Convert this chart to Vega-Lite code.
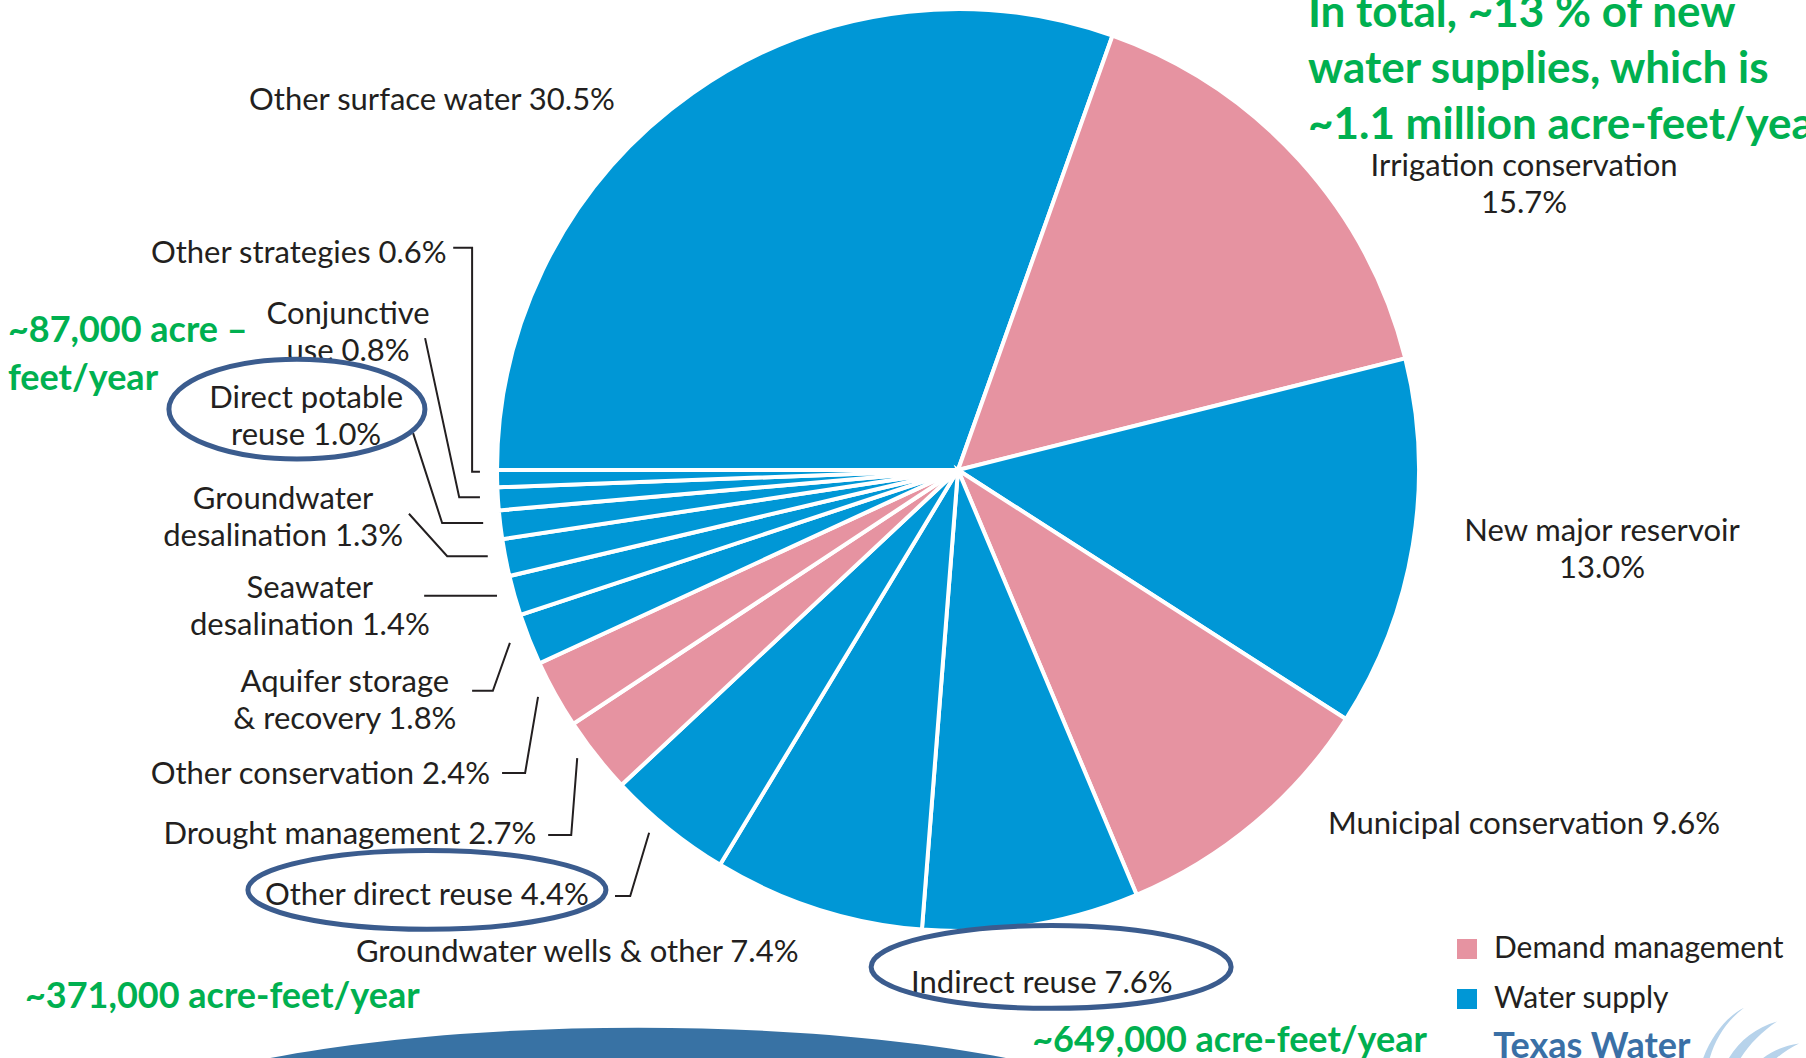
{
  "$schema": "https://vega.github.io/schema/vega-lite/v6.json",
  "width": 1806,
  "height": 1058,
  "autosize": {"type": "none"},
  "padding": 0,
  "background": "white",
  "config": {"view": {"stroke": null}, "font": "Lato"},
  "datasets": {
    "slices": [
      {"name": "Other surface water", "pct": 30.5, "group": "Water supply", "order": 1, "label": "Other surface water 30.5%", "ax": -114.1, "ay": 80.0},
      {"name": "Irrigation conservation", "pct": 15.7, "group": "Demand management", "order": 2, "label": "Irrigation conservation\n15.7%", "ax": 122.8, "ay": 65.7},
      {"name": "New major reservoir", "pct": 13.0, "group": "Water supply", "order": 3, "label": "New major reservoir\n13.0%", "ax": 139.7, "ay": -13.5},
      {"name": "Municipal conservation", "pct": 9.6, "group": "Demand management", "order": 4, "label": "Municipal conservation 9.6%", "ax": 122.8, "ay": -76.9},
      {"name": "Indirect reuse", "pct": 7.6, "group": "Water supply", "order": 5, "label": "Indirect reuse 7.6%", "ax": 18.2, "ay": -111.6},
      {"name": "Groundwater wells & other", "pct": 7.4, "group": "Water supply", "order": 6, "label": "Groundwater wells & other 7.4%", "ax": -82.6, "ay": -104.8},
      {"name": "Other direct reuse", "pct": 4.4, "group": "Water supply", "order": 7, "label": "Other direct reuse 4.4%", "ax": -115.2, "ay": -92.3},
      {"name": "Drought management", "pct": 2.7, "group": "Demand management", "order": 8, "label": "Drought management 2.7%", "ax": -131.9, "ay": -79.2},
      {"name": "Other conservation", "pct": 2.4, "group": "Demand management", "order": 9, "label": "Other conservation 2.4%", "ax": -138.3, "ay": -66.2},
      {"name": "Aquifer storage & recovery", "pct": 1.8, "group": "Water supply", "order": 10, "label": "Aquifer storage\n& recovery 1.8%", "ax": -133.0, "ay": -46.1},
      {"name": "Seawater desalination", "pct": 1.4, "group": "Water supply", "order": 11, "label": "Seawater\ndesalination 1.4%", "ax": -140.6, "ay": -25.9},
      {"name": "Groundwater desalination", "pct": 1.3, "group": "Water supply", "order": 12, "label": "Groundwater\ndesalination 1.3%", "ax": -146.4, "ay": -6.6},
      {"name": "Direct potable reuse", "pct": 1.0, "group": "Water supply", "order": 13, "label": "Direct potable\nreuse 1.0%", "ax": -141.4, "ay": 15.3},
      {"name": "Conjunctive use", "pct": 0.8, "group": "Water supply", "order": 14, "label": "Conjunctive\nuse 0.8%", "ax": -132.3, "ay": 33.6},
      {"name": "Other strategies", "pct": 0.6, "group": "Water supply", "order": 15, "label": "Other strategies 0.6%", "ax": -143.0, "ay": 46.8}
    ],
    "leaders": [
      {"id": "A", "seq": 1, "ax": -109.5, "ay": 48.2},
      {"id": "A", "seq": 2, "ax": -105.4, "ay": 48.2},
      {"id": "A", "seq": 3, "ax": -105.4, "ay": -0.4},
      {"id": "A", "seq": 4, "ax": -103.7, "ay": -0.4},
      {"id": "B", "seq": 1, "ax": -115.6, "ay": 28.6},
      {"id": "B", "seq": 2, "ax": -108.2, "ay": -5.9},
      {"id": "B", "seq": 3, "ax": -103.7, "ay": -5.9},
      {"id": "C", "seq": 1, "ax": -118.2, "ay": 8.0},
      {"id": "C", "seq": 2, "ax": -111.9, "ay": -11.5},
      {"id": "C", "seq": 3, "ax": -103.0, "ay": -11.5},
      {"id": "D", "seq": 1, "ax": -119.1, "ay": -9.5},
      {"id": "D", "seq": 2, "ax": -110.8, "ay": -18.7},
      {"id": "D", "seq": 3, "ax": -102.0, "ay": -18.7},
      {"id": "E", "seq": 1, "ax": -115.8, "ay": -27.3},
      {"id": "E", "seq": 2, "ax": -100.0, "ay": -27.3},
      {"id": "F", "seq": 1, "ax": -97.2, "ay": -37.5},
      {"id": "F", "seq": 2, "ax": -100.9, "ay": -47.9},
      {"id": "F", "seq": 3, "ax": -105.4, "ay": -47.9},
      {"id": "G", "seq": 1, "ax": -91.1, "ay": -49.2},
      {"id": "G", "seq": 2, "ax": -93.9, "ay": -65.7},
      {"id": "G", "seq": 3, "ax": -98.9, "ay": -65.7},
      {"id": "H", "seq": 1, "ax": -82.6, "ay": -62.5},
      {"id": "H", "seq": 2, "ax": -83.9, "ay": -79.2},
      {"id": "H", "seq": 3, "ax": -88.9, "ay": -79.2},
      {"id": "I", "seq": 1, "ax": -67.0, "ay": -78.7},
      {"id": "I", "seq": 2, "ax": -71.1, "ay": -92.4},
      {"id": "I", "seq": 3, "ax": -74.4, "ay": -92.4}
    ],
    "notes": [
      {"id": "top", "text": "In total, ~13 % of new\nwater supplies, which is\n~1.1 million acre-feet/year", "ax": 75.9, "ay": 99.0},
      {"id": "dpr", "text": "~87,000 acre –\nfeet/year", "ax": -206.1, "ay": 30.1},
      {"id": "odr", "text": "~371,000 acre-feet/year", "ax": -202.4, "ay": -114.4},
      {"id": "ir", "text": "~649,000 acre-feet/year", "ax": 16.1, "ay": -123.9}
    ],
    "ellipses": [
      {"id": "dpr", "ax": -143.4, "ay": 13.2},
      {"id": "odr", "ax": -115.2, "ay": -91.1},
      {"id": "ir", "ax": 20.2, "ay": -107.8}
    ],
    "decor": [
      {"id": "dome", "ax": -69.4, "ay": -147.7},
      {"id": "logo", "text": "Texas Water", "ax": 116.1, "ay": -121.5},
      {"id": "swoosh", "ax": 170.5, "ay": -128.0}
    ]
  },
  "encoding": {
    "x": {"field": "ax", "type": "quantitative", "scale": {"domain": [-207.809, 183.948], "nice": false, "zero": false}, "axis": null},
    "y": {"field": "ay", "type": "quantitative", "scale": {"domain": [-127.549, 101.952], "nice": false, "zero": false}, "axis": null}
  },
  "layer": [
    {
      "data": {"name": "decor"},
      "transform": [{"filter": "datum.id == 'dome'"}],
      "mark": {"type": "point", "shape": "M-1,0A1,0.22,0,1,1,1,0A1,0.22,0,1,1,-1,0Z", "size": 1254400, "filled": true, "color": "#3872A4", "opacity": 1, "strokeWidth": 0}
    },
    {
      "data": {"name": "decor"},
      "transform": [{"filter": "datum.id == 'swoosh'"}],
      "mark": {"type": "point", "shape": "M-0.95,1C-0.9,0,-0.5,-0.7,0,-0.95C-0.6,-0.5,-0.75,0.2,-0.75,1ZM-0.6,1C-0.5,0.1,-0.1,-0.5,0.6,-0.7C0,-0.3,-0.35,0.3,-0.4,1ZM-0.25,1C-0.1,0.3,0.3,-0.2,1,-0.3C0.4,0,0.05,0.5,-0.05,1Z", "size": 12100, "filled": true, "color": "#B7D3EB", "opacity": 1, "strokeWidth": 0}
    },
    {
      "data": {"name": "slices"},
      "mark": {"type": "arc", "radius": 461, "stroke": "white", "strokeWidth": 4},
      "encoding": {
        "x": {"datum": 0, "type": "quantitative"},
        "y": {"datum": 0, "type": "quantitative"},
        "theta": {"field": "pct", "type": "quantitative", "stack": true, "scale": {"range": [4.71239, 10.99557]}},
        "order": {"field": "order", "type": "quantitative"},
        "color": {
          "field": "group", "type": "nominal",
          "scale": {"domain": ["Demand management", "Water supply"], "range": ["#E693A1", "#0097D6"]},
          "legend": {"title": null, "orient": "none", "legendX": 1452, "legendY": 934, "symbolType": "square", "symbolSize": 400, "symbolStrokeWidth": 0, "symbolOpacity": 1, "labelFontSize": 30, "labelFont": "Lato", "labelColor": "#231F20", "labelOffset": 12, "labelLimit": 600, "rowPadding": 20, "padding": 0}
        }
      }
    },
    {
      "data": {"name": "leaders"},
      "mark": {"type": "line", "color": "#231F20", "strokeWidth": 2},
      "encoding": {
        "detail": {"field": "id", "type": "nominal"},
        "order": {"field": "seq", "type": "quantitative"}
      }
    },
    {
      "data": {"name": "slices"},
      "mark": {"type": "text", "font": "Lato", "fontSize": 31, "color": "#231F20", "lineBreak": "\n", "lineHeight": 37, "align": "center", "baseline": "middle"},
      "encoding": {"text": {"field": "label", "type": "nominal"}}
    },
    {
      "data": {"name": "notes"},
      "transform": [{"filter": "datum.id == 'top'"}],
      "mark": {"type": "text", "font": "Lato", "fontWeight": "bold", "fontSize": 44, "color": "#00B050", "lineBreak": "\n", "lineHeight": 56, "align": "left", "baseline": "middle"},
      "encoding": {"text": {"field": "text", "type": "nominal"}}
    },
    {
      "data": {"name": "notes"},
      "transform": [{"filter": "datum.id != 'top'"}],
      "mark": {"type": "text", "font": "Lato", "fontWeight": "bold", "fontSize": 36, "color": "#00B050", "lineBreak": "\n", "lineHeight": 48, "align": "left", "baseline": "middle"},
      "encoding": {"text": {"field": "text", "type": "nominal"}}
    },
    {
      "data": {"name": "ellipses"},
      "transform": [{"filter": "datum.id == 'dpr'"}],
      "mark": {"type": "point", "shape": "M-1,0A1,0.39,0,1,1,1,0A1,0.39,0,1,1,-1,0Z", "size": 65536, "filled": false, "stroke": "#3B5C8E", "strokeWidth": 5, "opacity": 1}
    },
    {
      "data": {"name": "ellipses"},
      "transform": [{"filter": "datum.id == 'odr'"}],
      "mark": {"type": "point", "shape": "M-1,0A1,0.22,0,1,1,1,0A1,0.22,0,1,1,-1,0Z", "size": 128164, "filled": false, "stroke": "#3B5C8E", "strokeWidth": 5, "opacity": 1}
    },
    {
      "data": {"name": "ellipses"},
      "transform": [{"filter": "datum.id == 'ir'"}],
      "mark": {"type": "point", "shape": "M-1,0A1,0.23,0,1,1,1,0A1,0.23,0,1,1,-1,0Z", "size": 129600, "filled": false, "stroke": "#3B5C8E", "strokeWidth": 5, "opacity": 1}
    },
    {
      "data": {"name": "decor"},
      "transform": [{"filter": "datum.id == 'logo'"}],
      "mark": {"type": "text", "font": "'Liberation Sans Narrow', Lato", "fontWeight": "bold", "fontSize": 36, "color": "#3A70A6", "align": "left", "baseline": "top"},
      "encoding": {"text": {"field": "text", "type": "nominal"}}
    }
  ]
}
